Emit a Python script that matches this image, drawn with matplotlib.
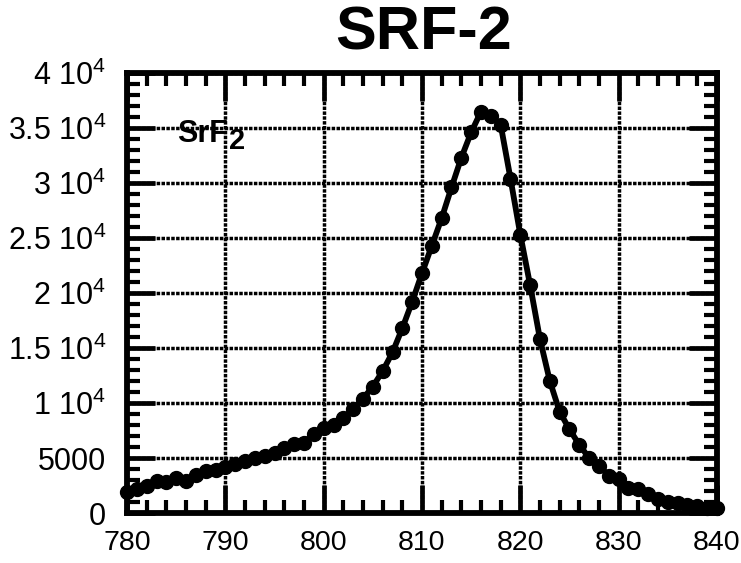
import matplotlib
matplotlib.use("Agg")
import matplotlib.pyplot as plt
from matplotlib.ticker import MultipleLocator, FixedLocator
from matplotlib.transforms import offset_copy

plt.rcParams['font.family'] = ['Liberation Sans', 'DejaVu Sans']
plt.rcParams['mathtext.fontset'] = 'custom'
plt.rcParams['mathtext.rm'] = 'Liberation Sans'
plt.rcParams['mathtext.it'] = 'Liberation Sans:italic'
plt.rcParams['mathtext.bf'] = 'Liberation Sans:bold'

title = "SRF-2"
label_main = "SrF"
label_sub = "2"

wavelength = [780, 781, 782, 783, 784, 785, 786, 787, 788, 789,
              790, 791, 792, 793, 794, 795, 796, 797, 798, 799,
              800, 801, 802, 803, 804, 805, 806, 807, 808, 809,
              810, 811, 812, 813, 814, 815, 816, 817, 818, 819,
              820, 821, 822, 823, 824, 825, 826, 827, 828, 829,
              830, 831, 832, 833, 834, 835, 836, 837, 838, 839, 840]
intensity = [1900, 2200, 2500, 2900, 2800, 3200, 2900, 3500, 3800, 3900,
             4200, 4500, 4700, 5000, 5200, 5500, 5900, 6300, 6400, 7200,
             7700, 8000, 8600, 9500, 10400, 11500, 12900, 14600, 16800, 19200,
             21800, 24300, 26800, 29600, 32300, 34600, 36500, 36100, 35300, 30400,
             25300, 20700, 15800, 12000, 9200, 7600, 6200, 5000, 4300, 3400,
             3100, 2300, 2200, 1700, 1300, 1000, 900, 700, 600, 500, 500]

x_ticks = [780, 790, 800, 810, 820, 830, 840]
x_ticklabels = ["780", "790", "800", "810", "820", "830", "840"]
y_ticks = [0, 5000, 10000, 15000, 20000, 25000, 30000, 35000, 40000]
y_ticklabels = ["0", "5000",
                r"$\mathregular{1\ 10^{4}}$", r"$\mathregular{1.5\ 10^{4}}$",
                r"$\mathregular{2\ 10^{4}}$", r"$\mathregular{2.5\ 10^{4}}$",
                r"$\mathregular{3\ 10^{4}}$", r"$\mathregular{3.5\ 10^{4}}$",
                r"$\mathregular{4\ 10^{4}}$"]

fig = plt.figure(figsize=(7.41, 5.63), dpi=100)
ax = fig.add_axes([0.1714, 0.0888, 0.7962, 0.7815])

ax.plot(wavelength, intensity, color='black', lw=4.2, marker='o',
        markersize=10, zorder=3, clip_on=False)

ax.set_xlim(780, 840)
ax.set_ylim(0, 40000)
ax.xaxis.set_major_locator(FixedLocator(x_ticks))
ax.set_xticklabels(x_ticklabels)
ax.yaxis.set_major_locator(FixedLocator(y_ticks))
ax.set_yticklabels(y_ticklabels)
ax.xaxis.set_minor_locator(MultipleLocator(2))
ax.yaxis.set_minor_locator(MultipleLocator(1000))

ax.tick_params(which='both', direction='in', top=True, right=True, colors='black')
ax.tick_params(which='major', length=20, width=3.4)
ax.tick_params(which='minor', length=9.5, width=3.0)
ax.tick_params(axis='y', which='major', pad=15, labelsize=22)
ax.tick_params(axis='x', which='major', pad=12, labelsize=20.5)

for s in ax.spines.values():
    s.set_linewidth(4.2)
    s.set_color('black')

ax.grid(True, which='major', color='black', lw=2.5, ls=(0, (1, 0.4)), zorder=1)
ax.set_axisbelow(True)

t1 = ax.text(0.085, 0.862, label_main, transform=ax.transAxes, fontsize=22,
             fontweight='bold', ha='left', va='center')
fig.canvas.draw()
bb = t1.get_window_extent()
x_end, _ = ax.transAxes.inverted().transform((bb.x1, bb.y0))
ax.text(x_end, 0.862, label_sub, transform=offset_copy(ax.transAxes, fig=fig, x=1, y=-5, units='points'),
        fontsize=21, fontweight='bold', ha='left', va='center')

fig.text(0.572, 0.94, title, fontsize=44, fontweight='bold', ha='center', va='center')

fig.savefig("out.png", dpi=100)
